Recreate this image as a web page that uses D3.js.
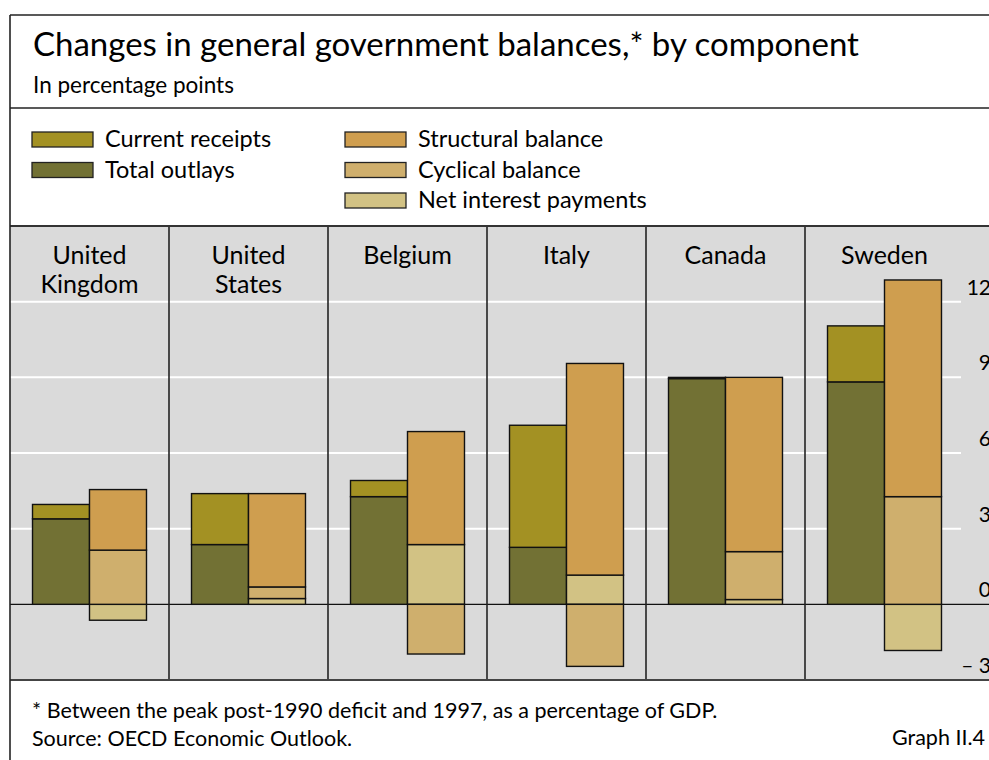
<!DOCTYPE html>
<html>
<head>
<meta charset="utf-8">
<script src="https://cdn.jsdelivr.net/npm/d3@7"></script>
<style>
body { margin: 0; background: #fff; }
svg { display: block; font-family: Lato, "Open Sans", sans-serif; }
</style>
</head>
<body>
<svg id="chart" width="989" height="760"></svg>
<script>
// values, in percentage points
var countries = [["United", "Kingdom"], ["United", "States"], ["Belgium"], ["Italy"], ["Canada"], ["Sweden"]];
var currentReceipts = [0.57, 2.02, 0.64, 4.84, 0.05, 2.22];
var totalOutlays = [3.39, 2.37, 4.27, 2.26, 8.95, 8.82];
var structuralBalance = [2.4, 3.7, 4.48, 8.39, 6.91, 8.59];
var cyclicalBalance = [2.15, 0.46, -1.97, -2.46, 1.9, 4.27];
var netInterestPayments = [-0.63, 0.23, 2.37, 1.16, 0.19, -1.83];
var yTicks = [-3, 0, 3, 6, 9, 12];
var yTickLabels = ["– 3", "0", "3", "6", "9", "12"];

var legendLabels = {
    "receipts": "Current receipts",
    "outlays": "Total outlays",
    "structural": "Structural balance",
    "cyclical": "Cyclical balance",
    "interest": "Net interest payments"
};
var colors = {
    "receipts": "#a39123",
    "outlays": "#727134",
    "structural": "#cf9e4f",
    "cyclical": "#cfaf6d",
    "interest": "#d2c284"
};

var svg = d3.select("#chart");

var left = 10, right = 989;
var plotTop = 226, plotBottom = 680;
var panelRight = 964;

var rows = countries.map(function (c, i) {
    return {
        "index": i,
        "receipts": currentReceipts[i],
        "outlays": totalOutlays[i],
        "structural": structuralBalance[i],
        "cyclical": cyclicalBalance[i],
        "interest": netInterestPayments[i]
    };
});

var x = d3.scaleBand()
    .domain(d3.range(countries.length))
    .range([left, panelRight]);
var xInner = d3.scaleBand()
    .domain(["spending", "balance"])
    .range([0, x.bandwidth()])
    .paddingOuter(0.395);
var y = d3.scaleLinear()
    .domain([-3, 15])
    .range([plotBottom, plotTop]);

// title block
svg.append("text")
    .attr("x", 33).attr("y", 56)
    .attr("font-size", 33)
    .text("Changes in general government balances,* by component");
svg.append("text")
    .attr("x", 33).attr("y", 93)
    .attr("font-size", 22.5)
    .text("In percentage points");

// legend
var legendItems = [
    { key: "receipts", col: 0, row: 0 },
    { key: "outlays", col: 0, row: 1 },
    { key: "structural", col: 1, row: 0 },
    { key: "cyclical", col: 1, row: 1 },
    { key: "interest", col: 1, row: 2 }
];
var legend = svg.append("g")
    .selectAll("g")
    .data(legendItems)
    .enter()
    .append("g")
    .attr("transform", (d) => "translate(" + (d.col ? 345 : 32) + ", " + (132 + d.row * 30.5) + ")");
legend.append("rect")
    .attr("width", 61)
    .attr("height", 15)
    .attr("fill", (d) => colors[d.key])
    .attr("stroke", "#222")
    .attr("stroke-width", 1.3);
legend.append("text")
    .attr("x", 73)
    .attr("y", 15)
    .attr("font-size", 23.5)
    .text((d) => legendLabels[d.key]);

// panel background and grid
svg.append("rect")
    .attr("x", left).attr("y", plotTop)
    .attr("width", right - left).attr("height", plotBottom - plotTop)
    .attr("fill", "#dadada");

svg.append("g")
    .selectAll("line")
    .data(yTicks.filter((t) => t > 0))
    .enter()
    .append("line")
    .attr("x1", left).attr("x2", 961)
    .attr("y1", (d) => y(d)).attr("y2", (d) => y(d))
    .attr("stroke", "#fff")
    .attr("stroke-width", 2);

svg.append("line")
    .attr("x1", left).attr("x2", right)
    .attr("y1", y(0)).attr("y2", y(0))
    .attr("stroke", "#111")
    .attr("stroke-width", 1.3);

svg.append("g")
    .selectAll("line")
    .data(d3.range(1, countries.length))
    .enter()
    .append("line")
    .attr("x1", (d) => x(d)).attr("x2", (d) => x(d))
    .attr("y1", plotTop).attr("y2", plotBottom)
    .attr("stroke", "#222")
    .attr("stroke-width", 1.6);

// country names, one text per line
svg.append("g")
    .selectAll("g")
    .data(countries)
    .enter()
    .append("g")
    .attr("transform", (d, i) => "translate(" + (x(i) + x.bandwidth() / 2) + ", 264)")
    .selectAll("text")
    .data((d) => d)
    .enter()
    .append("text")
    .attr("text-anchor", "middle")
    .attr("font-size", 25)
    .attr("y", (d, i) => i * 29)
    .text((d) => d);

// stacked bars
function drawStack(keys, side) {
    var series = d3.stack()
        .keys(keys)
        .offset(d3.stackOffsetDiverging)(rows);
    svg.append("g")
        .selectAll("g")
        .data(series)
        .enter()
        .append("g")
        .attr("fill", (s) => colors[s.key])
        .selectAll("rect")
        .data((s) => s)
        .enter()
        .append("rect")
        .attr("x", (d) => x(d.data.index) + xInner(side))
        .attr("y", (d) => y(Math.max(d[0], d[1])))
        .attr("width", xInner.bandwidth())
        .attr("height", (d) => Math.abs(y(d[0]) - y(d[1])))
        .attr("stroke", "#111")
        .attr("stroke-width", 1.4);
}
drawStack(["outlays", "receipts"], "spending");
drawStack(["interest", "cyclical", "structural"], "balance");

// y axis labels on the right
svg.append("g")
    .selectAll("text")
    .data(yTicks)
    .enter()
    .append("text")
    .attr("text-anchor", "end")
    .attr("font-size", 21)
    .attr("x", 991)
    .attr("y", (d) => Math.min(y(d) - 7, plotBottom - 1))
    .text((d, i) => yTickLabels[i]);

// frame lines
svg.append("line")
    .attr("x1", left).attr("x2", right).attr("y1", 15).attr("y2", 15)
    .attr("stroke", "#222").attr("stroke-width", 1.6);
svg.append("line")
    .attr("x1", left).attr("x2", right).attr("y1", 108).attr("y2", 108)
    .attr("stroke", "#222").attr("stroke-width", 1.6);
svg.append("line")
    .attr("x1", left).attr("x2", right).attr("y1", plotTop).attr("y2", plotTop)
    .attr("stroke", "#333").attr("stroke-width", 1.8);
svg.append("line")
    .attr("x1", left).attr("x2", right).attr("y1", plotBottom).attr("y2", plotBottom)
    .attr("stroke", "#444").attr("stroke-width", 2);
svg.append("line")
    .attr("x1", left).attr("x2", left).attr("y1", 15).attr("y2", 760)
    .attr("stroke", "#222").attr("stroke-width", 1.6);

// footnotes
svg.append("text")
    .attr("x", 32).attr("y", 718)
    .attr("font-size", 21.5)
    .text("* Between the peak post-1990 deficit and 1997, as a percentage of GDP.");
svg.append("text")
    .attr("x", 32).attr("y", 746)
    .attr("font-size", 21.5)
    .text("Source: OECD Economic Outlook.");
svg.append("text")
    .attr("x", 985).attr("y", 745)
    .attr("text-anchor", "end")
    .attr("font-size", 21.5)
    .text("Graph II.4");
</script>
</body>
</html>
